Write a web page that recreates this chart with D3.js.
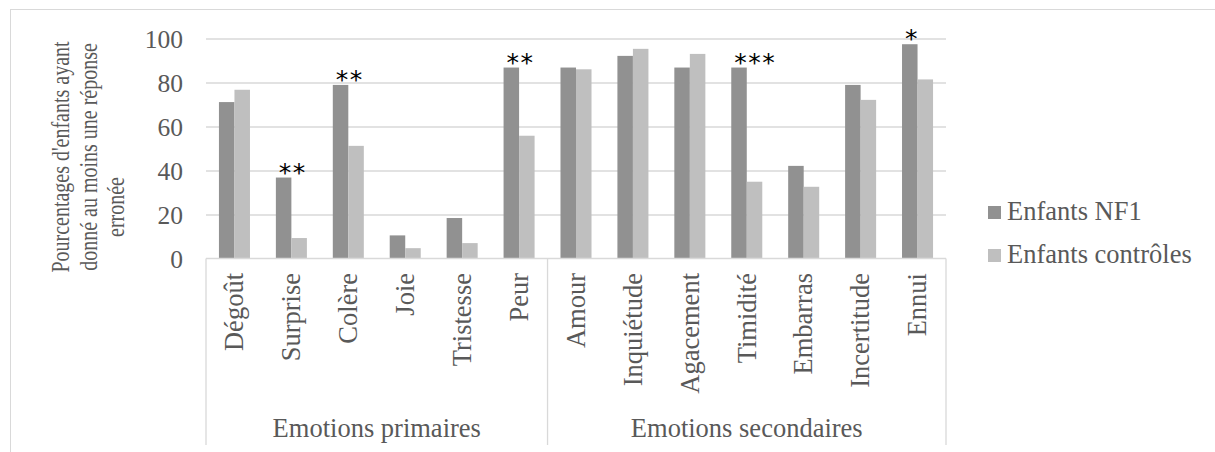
<!DOCTYPE html>
<html><head><meta charset="utf-8">
<script src="https://cdn.jsdelivr.net/npm/d3@7"></script>
<style>
body{margin:0;background:#fff;}
svg{display:block;}
</style></head>
<body><svg id="c" width="1215" height="452" font-family="Liberation Serif, Times New Roman, serif"></svg>
<script>
const categories = ["Dégoût","Surprise","Colère","Joie","Tristesse","Peur","Amour","Inquiétude","Agacement","Timidité","Embarras","Incertitude","Ennui"];
const groups = ["Emotions primaires","Emotions secondaires"];
const groupSizes = [6,7];
const seriesNames = ["Enfants NF1","Enfants contrôles"];
const nf1Values = [71.1,36.8,78.9,10.5,18.4,86.8,86.8,92.1,86.8,86.8,42.1,78.9,97.4];
const controlValues = [76.7,9.3,51.2,4.7,7.0,55.8,86.0,95.3,93.0,34.9,32.6,72.1,81.4];
const significance = ["","**","**","","","**","","","","***","","","*"];
const yTicks = [0,20,40,60,80,100];
const yTitleLines = ["Pourcentages d'enfants ayant","donné au moins une réponse","erronée"];

const SERIF = "'Liberation Serif','Times New Roman',serif";
const TXT = "#595959";
const colors = ["#919191","#bfbfbf"];
const svg = d3.select("#c");
const L = 206, R = 946, T = 38.5, B = 258.5;

// outer frame
svg.append("rect").attr("x",10.5).attr("y",9.5).attr("width",1300).attr("height",600)
  .attr("fill","none").attr("stroke","#d9d9d9").attr("stroke-width",1);

const y = d3.scaleLinear().domain([0,100]).range([B,T]);
const x0 = d3.scaleBand().domain(categories).range([L,R]).paddingInner(0).paddingOuter(0);
const x1 = d3.scaleBand().domain(seriesNames).range([0,x0.bandwidth()]).paddingInner(0).paddingOuter(0.835);

// gridlines
const grid = svg.append("g").attr("transform",`translate(${L},0)`)
  .call(d3.axisLeft(y).tickValues(yTicks.filter(v=>v>0)).tickSize(-(R-L)).tickFormat(""));
grid.select(".domain").remove();
grid.selectAll("line").attr("stroke","#d9d9d9").attr("stroke-width",1.3);

// y tick labels
const ya = svg.append("g").attr("transform",`translate(183,0)`)
  .call(d3.axisLeft(y).tickValues(yTicks).tickSize(0).tickPadding(0));
ya.attr("font-family",SERIF).attr("font-size",25.5);
ya.select(".domain").remove();
ya.selectAll("text").attr("font-family",SERIF).attr("font-size",25.5).attr("fill",TXT).attr("dy","0.34em");

// bars
const data = categories.map((c,i)=>({c, vals:[nf1Values[i],controlValues[i]], sig:significance[i]}));
const cg = svg.append("g").selectAll("g.cat").data(data).join("g").attr("class","cat")
  .attr("transform",d=>`translate(${x0(d.c)},0)`);
cg.selectAll("rect").data(d=>d.vals.map((v,k)=>({s:seriesNames[k],v,k}))).join("rect")
  .attr("x",d=>x1(d.s)).attr("width",x1.bandwidth())
  .attr("y",d=>y(d.v)).attr("height",d=>B-y(d.v))
  .attr("fill",d=>colors[d.k]);

// significance stars
cg.filter(d=>d.sig).append("text")
  .attr("x",x1(seriesNames[0])+3)
  .attr("y",d=>y(d.vals[0])+3)
  .attr("text-anchor","start")
  .attr("font-size",25).attr("letter-spacing",1.5)
  .attr("font-family","'DejaVu Sans',sans-serif").attr("fill","#000")
  .text(d=>d.sig);

// x axis baseline
svg.append("line").attr("x1",L).attr("x2",R).attr("y1",B).attr("y2",B)
  .attr("stroke","#d9d9d9").attr("stroke-width",1.3);

// group separators
let acc = 0;
const bounds = [L];
groupSizes.forEach(n=>{acc+=n; bounds.push(x0(categories[acc-1])+x0.bandwidth());});
svg.selectAll("line.sep").data(bounds).join("line").attr("class","sep")
  .attr("x1",d=>d).attr("x2",d=>d).attr("y1",B).attr("y2",445)
  .attr("stroke","#d9d9d9").attr("stroke-width",1.3);

// category labels (rotated)
svg.append("g").selectAll("text").data(categories).join("text")
  .attr("transform",d=>`translate(${x0(d)+x0.bandwidth()/2},273) rotate(-90)`)
  .attr("text-anchor","end").attr("dy","0.33em")
  .attr("font-family",SERIF).attr("font-size",26.5).attr("fill",TXT)
  .text(d=>d);

// group labels
svg.append("g").selectAll("text").data(groups).join("text")
  .attr("x",(d,i)=>(bounds[i]+bounds[i+1])/2).attr("y",437)
  .attr("text-anchor","middle").attr("font-family",SERIF).attr("font-size",26.5).attr("fill",TXT)
  .text(d=>d);

// y title (condensed serif, three lines)
const titleCenters = [157,157,207];
yTitleLines.forEach((t,i)=>{
  svg.append("text").attr("transform",`translate(${69+i*27.5},${titleCenters[i]}) rotate(-90) scale(0.8,1)`)
    .attr("text-anchor","middle").attr("font-family",SERIF).attr("font-size",25).attr("fill",TXT)
    .text(t);
});

// legend
const lg = svg.append("g").selectAll("g").data(seriesNames).join("g")
  .attr("transform",(d,i)=>`translate(988,${220+i*43})`);
lg.append("rect").attr("x",0).attr("y",-14).attr("width",13).attr("height",13).attr("fill",(d,i)=>colors[i]);
lg.append("text").attr("x",19).attr("y",0).attr("font-family",SERIF).attr("font-size",26.5).attr("fill",TXT).text(d=>d);
</script></body></html>
